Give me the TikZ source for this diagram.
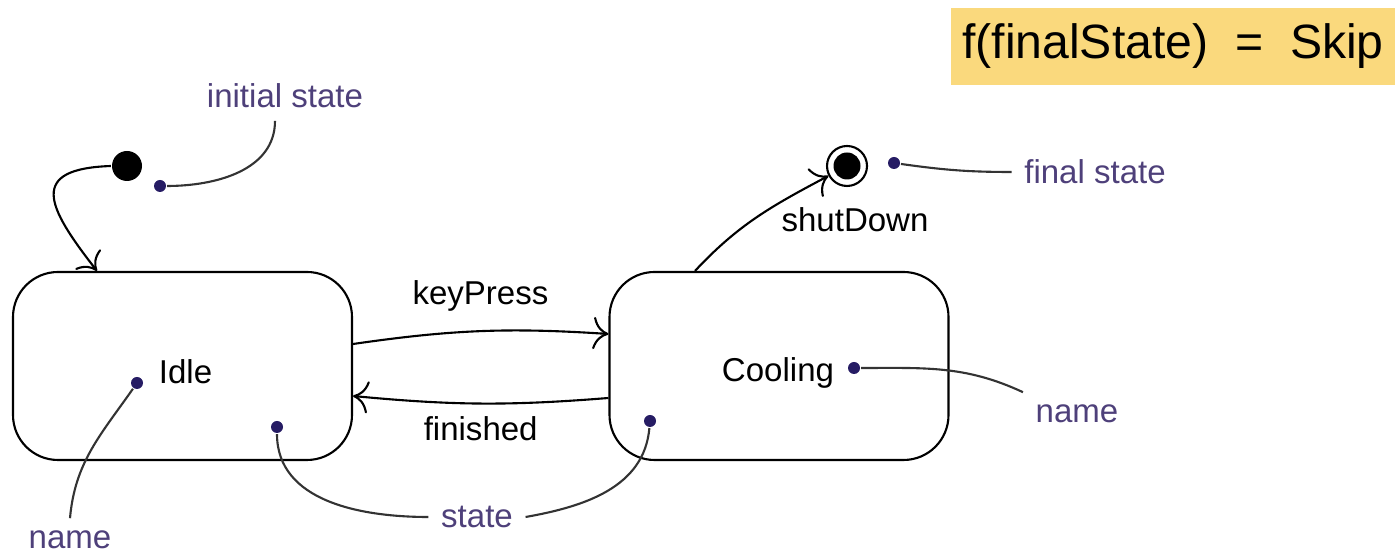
\documentclass[tikz,border=0pt]{standalone}
\usepackage{fontspec}
\setmainfont{Liberation Sans}
\usepackage{tikz}
\usetikzlibrary{arrows.meta, calc}

\definecolor{notecol}{RGB}{78,64,122}
\definecolor{pincol}{RGB}{38,28,100}
\definecolor{boxyellow}{RGB}{250,217,125}

\begin{document}
\begin{tikzpicture}[semithick, every node/.style={font=\fontsize{9.4}{11}\selectfont},
    state/.style={draw, rounded corners=0.45cm, minimum width=3.39cm, minimum height=1.88cm},
    pin/.style={circle, fill=pincol, inner sep=0pt, minimum size=0.12cm},
    note/.style={text=notecol},
    noteline/.style={draw=black!80}]
            \useasboundingbox (0,0) rectangle (13.95,5.55);

            \node[fill=boxyellow, minimum width=4.44cm, minimum height=0.77cm, font=\fontsize{13.7}{16}\selectfont] at (11.73,5.085) (fbox) {f(finalState)~~=~~Skip};

            \node[circle, fill, inner sep=0pt, minimum size=0.3cm] at (1.27,3.89)   (init) {};
            \node[state] at (1.825,1.89)   (idle) {};
            \node[state] at (7.79,1.89)   (cooling) {};
            \node[circle, draw, inner sep=0pt, minimum size=0.4cm] at (8.47,3.89)   (final) {};
            \node[circle, fill, inner sep=0pt, minimum size=0.27cm] at (final)   (finalin) {};

            \node at (1.855,1.83)   (idlelbl) {Idle};
            \node at (7.78,1.82)   (coollbl) {Cooling};
            \node at (8.55,3.35)   (shutlbl) {shutDown};

            % notes and their pins
            \node[note] at (2.85,4.59)   (initnote) {initial state};
            \node[note] at (10.95,3.83)   (finalnote) {final state};
            \node[note] at (0.70,0.15)   (namel) {name};
            \node[note] at (10.77,1.41)   (namer) {name};
            \node[note] at (4.77,0.38)   (statenote) {state};

            \node[pin] at (1.60,3.69)   (initpin) {};
            \node[pin] at (8.94,3.92)   (finalpin) {};
            \node[pin] at (1.37,1.72)   (idlepin) {};
            \node[pin] at (2.77,1.28)   (idlestpin) {};
            \node[pin] at (8.54,1.87)   (coolpin) {};
            \node[pin] at (6.50,1.34)   (coolstpin) {};

            \draw [-{To[scale=1.5]}] (init.west) to[out=182,in=128,looseness=2] ($(idle.north)+(-0.855,0)$);
            \draw [-{To[scale=1.5]}] ($(idle.east)+(0,0.22)$) to[bend left=6] node[above=2pt] (keylbl) {keyPress} ($(cooling.west)+(0,0.32)$);
            \draw [-{To[scale=1.5]}] ($(cooling.west)+(0,-0.32)$) to[bend left=5] node[below=0pt] (finlbl) {finished} ($(idle.east)+(0,-0.30)$);
            \draw [-{To[scale=1.5]}] ($(cooling.north)+(-0.84,0)$) to[out=47,in=208] (final);

            \draw [noteline] (initpin) to[out=0,in=-90] ($(initnote.south)+(-0.1,0)$);
            \draw [noteline] (finalpin) to[out=-8,in=180] (finalnote.west);
            \draw [noteline] (idlepin) to[out=235,in=85] (namel.north);
            \draw [noteline] (coolpin) to[out=0,in=155] (namer.north west);
            \draw [noteline] (idlestpin) to[out=-90,in=180] (statenote.west);
            \draw [noteline] (coolstpin) to[out=-95,in=10] (statenote.east);
        \end{tikzpicture}
\end{document}
